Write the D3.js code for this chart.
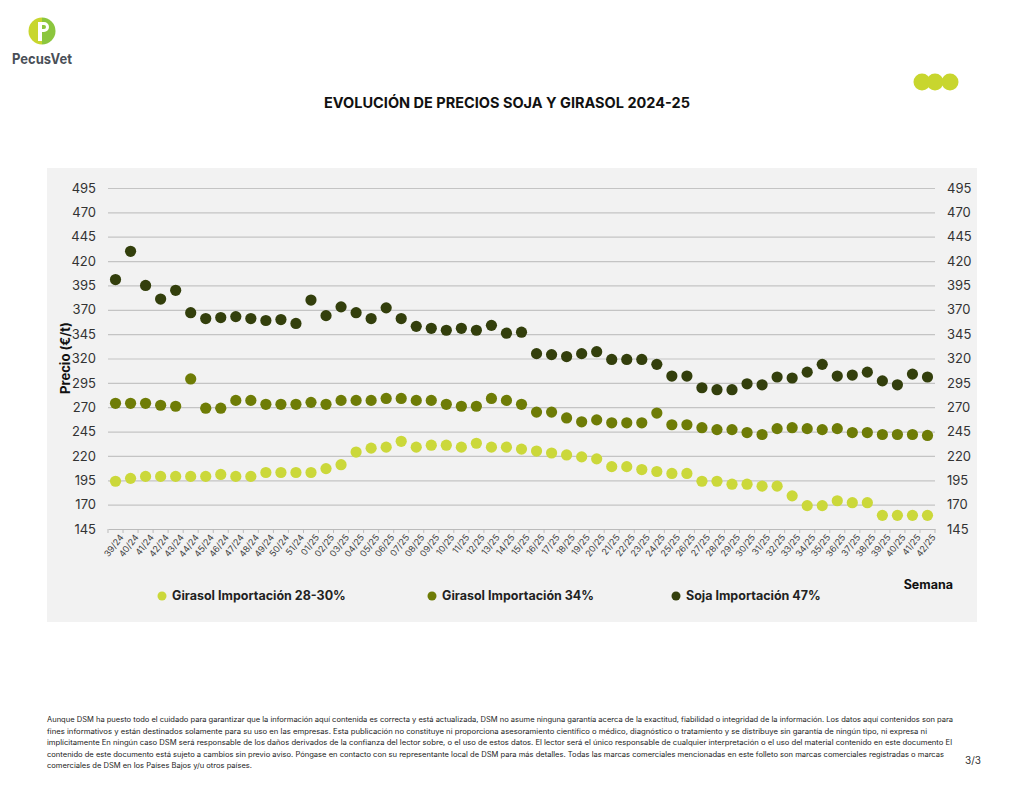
<!DOCTYPE html>
<html>
<head>
<meta charset="utf-8">
<script src="https://cdn.jsdelivr.net/npm/d3@7"></script>
<style>
  body { margin: 0; background: #fff; }
  svg { font-family: Inter, "Open Sans", sans-serif; }
</style>
</head>
<body>
<svg id="chart" width="1024" height="791"></svg>
<script>
// weeks on the x axis
const semanas = ["39/24","40/24","41/24","42/24","43/24","44/24","45/24","46/24","47/24","48/24","49/24","50/24","51/24",
  "01/25","02/25","03/25","04/25","05/25","06/25","07/25","08/25","09/25","10/25","11/25","12/25","13/25","14/25","15/25",
  "16/25","17/25","18/25","19/25","20/25","21/25","22/25","23/25","24/25","25/25","26/25","27/25","28/25","29/25","30/25",
  "31/25","32/25","33/25","34/25","35/25","36/25","37/25","38/25","39/25","40/25","41/25","42/25"];

const girasol2830 = [194,197,199,199,199,199,199,201,199,199,203,203,203,
  203,207,211,224,228,229,235,229,231,231,229,233,229,229,227,
  225,223,221,219,217,209,209,206,204,202,202,194,194,191,191,
  189,189,179,169,169,174,172,172,159,159,159,159];

const girasol34 = [274,274,274,272,271,299,269,269,277,277,273,273,273,
  275,273,277,277,277,279,279,277,277,273,271,271,279,277,273,
  265,265,259,255,257,254,254,254,264,252,252,249,247,247,244,
  242,248,249,248,247,248,244,244,242,242,242,241];

const soja47 = [401,430,395,381,390,367,361,362,363,361,359,360,356,
  380,364,373,367,361,372,361,353,351,349,351,349,354,346,347,
  325,324,322,325,327,319,319,319,314,302,302,290,288,288,294,
  293,301,300,306,314,302,303,306,297,293,304,301];

const yTicks = [145,170,195,220,245,270,295,320,345,370,395,420,445,470,495];

const seriesNames = ["Girasol Importación 28-30%", "Girasol Importación 34%", "Soja Importación 47%"];
const seriesColors = ["#cbd83a", "#6e7c06", "#333f0c"];

const svg = d3.select("#chart");

// logo
const logo = svg.append("g").attr("transform", "translate(42,31)");
logo.append("path").attr("d", d3.arc()({innerRadius: 0, outerRadius: 13.5, startAngle: Math.PI, endAngle: 2 * Math.PI})).attr("fill", "#c8d62e");
logo.append("path").attr("d", d3.arc()({innerRadius: 0, outerRadius: 13.5, startAngle: 0, endAngle: Math.PI})).attr("fill", "#8cc63e");
logo.append("rect").attr("x", -4).attr("y", -9).attr("width", 4).attr("height", 19).attr("fill", "#fff");
logo.append("path").attr("d", "M0,-9 h2 a5,5 0 0 1 0,10 h-2 v-3 h2 a2,2 0 0 0 0,-4 h-2 z").attr("fill", "#fff");
svg.append("text").attr("x", 12).attr("y", 64)
  .attr("font-size", 14.5).attr("font-weight", 700).attr("fill", "#4a4f57")
  .attr("textLength", 60).attr("lengthAdjust", "spacingAndGlyphs").text("PecusVet");

// three dots top right
[922, 935, 950].forEach(cx => svg.append("circle").attr("cx", cx).attr("cy", 82).attr("r", 8.5).attr("fill", "#c8d62e"));

// title
svg.append("text").attr("x", 507).attr("y", 108).attr("text-anchor", "middle")
  .attr("font-size", 14.5).attr("font-weight", 700).attr("fill", "#111")
  .text("EVOLUCIÓN DE PRECIOS SOJA Y GIRASOL 2024-25");

// chart panel
svg.append("rect").attr("x", 47).attr("y", 168).attr("width", 930).attr("height", 454).attr("fill", "#f2f2f2");

const plotLeft = 108, plotRight = 935, plotTop = 188, plotBottom = 529;

const x = d3.scaleBand().domain(semanas).range([plotLeft, plotRight]).padding(0);
const y = d3.scaleLinear().domain([145, 495]).range([plotBottom, plotTop]);

// gridlines + left axis
const gy = svg.append("g").attr("transform", "translate(" + plotLeft + ",0)")
  .call(d3.axisLeft(y).tickValues(yTicks.slice(1)).tickSize(-(plotRight - plotLeft)).tickFormat(d3.format("d")));
gy.select(".domain").remove();
gy.selectAll(".tick line").attr("stroke", "#c4c4c4").attr("stroke-width", 1.2);
gy.selectAll(".tick text").attr("x", -12).attr("font-size", 13).attr("fill", "#333").attr("font-family", "Inter, sans-serif");
svg.append("text").attr("x", 96).attr("y", y(145) + 4.5).attr("text-anchor", "end").attr("font-size", 13).attr("fill", "#333").text("145");

// right axis labels
const gr = svg.append("g").attr("transform", "translate(" + plotRight + ",0)")
  .call(d3.axisRight(y).tickValues(yTicks).tickSize(0).tickFormat(d3.format("d")));
gr.select(".domain").remove();
gr.selectAll(".tick text").attr("x", 12).attr("font-size", 13).attr("fill", "#333").attr("font-family", "Inter, sans-serif");

// bottom axis
const gx = svg.append("g").attr("transform", "translate(0," + plotBottom + ")")
  .call(d3.axisBottom(x).tickSize(4).tickSizeOuter(0));
gx.select(".domain").attr("stroke", "#bbb");
gx.selectAll(".tick line").attr("stroke", "#bbb").attr("transform", "translate(" + (-x.step() / 2) + ",0)");
gx.append("line").attr("x1", plotRight).attr("x2", plotRight).attr("y1", 0).attr("y2", 4).attr("stroke", "#bbb");
gx.selectAll(".tick text")
  .attr("font-size", 9).attr("fill", "#444").attr("font-family", "Inter, sans-serif")
  .attr("text-anchor", "end").attr("transform", "translate(3,4) rotate(-52)").attr("dy", "0.35em").attr("y", 4).attr("x", 0);

// y axis title
svg.append("text").attr("transform", "translate(70,358) rotate(-90)").attr("text-anchor", "middle")
  .attr("font-size", 13).attr("font-weight", 700).attr("fill", "#111").text("Precio (€/t)");

svg.append("text").attr("x", 953).attr("y", 589).attr("text-anchor", "end")
  .attr("font-size", 12.5).attr("font-weight", 700).attr("fill", "#111").text("Semana");

// points
[girasol2830, girasol34, soja47].forEach((vals, i) => {
  svg.append("g").selectAll("circle").data(vals).join("circle")
    .attr("cx", (d, j) => x(semanas[j]) + x.bandwidth() / 2)
    .attr("cy", d => y(d))
    .attr("r", 5.6)
    .attr("fill", seriesColors[i]);
});

// legend
const legendX = [162, 432, 676];
seriesNames.forEach((name, i) => {
  const lg = svg.append("g").attr("transform", "translate(" + legendX[i] + ",596)");
  lg.append("circle").attr("r", 4.5).attr("fill", seriesColors[i]);
  lg.append("text").attr("x", 10).attr("dy", "0.35em").attr("font-size", 12.5).attr("font-weight", 700)
    .attr("fill", "#222").text(name);
});

// footer disclaimer
const footer = [
  "Aunque DSM ha puesto todo el cuidado para garantizar que la información aquí contenida es correcta y está actualizada, DSM no asume ninguna garantía acerca de la exactitud, fiabilidad o integridad de la información. Los datos aquí contenidos son para",
  "fines informativos y están destinados solamente para su uso en las empresas. Esta publicación no constituye ni proporciona asesoramiento científico o médico, diagnóstico o tratamiento y se distribuye sin garantía de ningún tipo, ni expresa ni",
  "implícitamente En ningún caso DSM será responsable de los daños derivados de la confianza del lector sobre, o el uso de estos datos. El lector será el único responsable de cualquier interpretación o el uso del material contenido en este documento El",
  "contenido de este documento está sujeto a cambios sin previo aviso. Póngase en contacto con su representante local de DSM para más detalles. Todas las marcas comerciales mencionadas en este folleto son marcas comerciales registradas o marcas",
  "comerciales de DSM en los Países Bajos y/u otros países."
];
const footerWidths = [906, 880, 905, 897, 205];
footer.forEach((line, i) => {
  svg.append("text").attr("x", 47).attr("y", 722 + i * 11.5)
    .attr("font-size", 7.3).attr("fill", "#222")
    .attr("textLength", footerWidths[i]).attr("lengthAdjust", "spacingAndGlyphs")
    .text(line);
});
svg.append("text").attr("x", 981).attr("y", 764).attr("text-anchor", "end")
  .attr("font-size", 10).attr("fill", "#333").text("3/3");
</script>
</body>
</html>
